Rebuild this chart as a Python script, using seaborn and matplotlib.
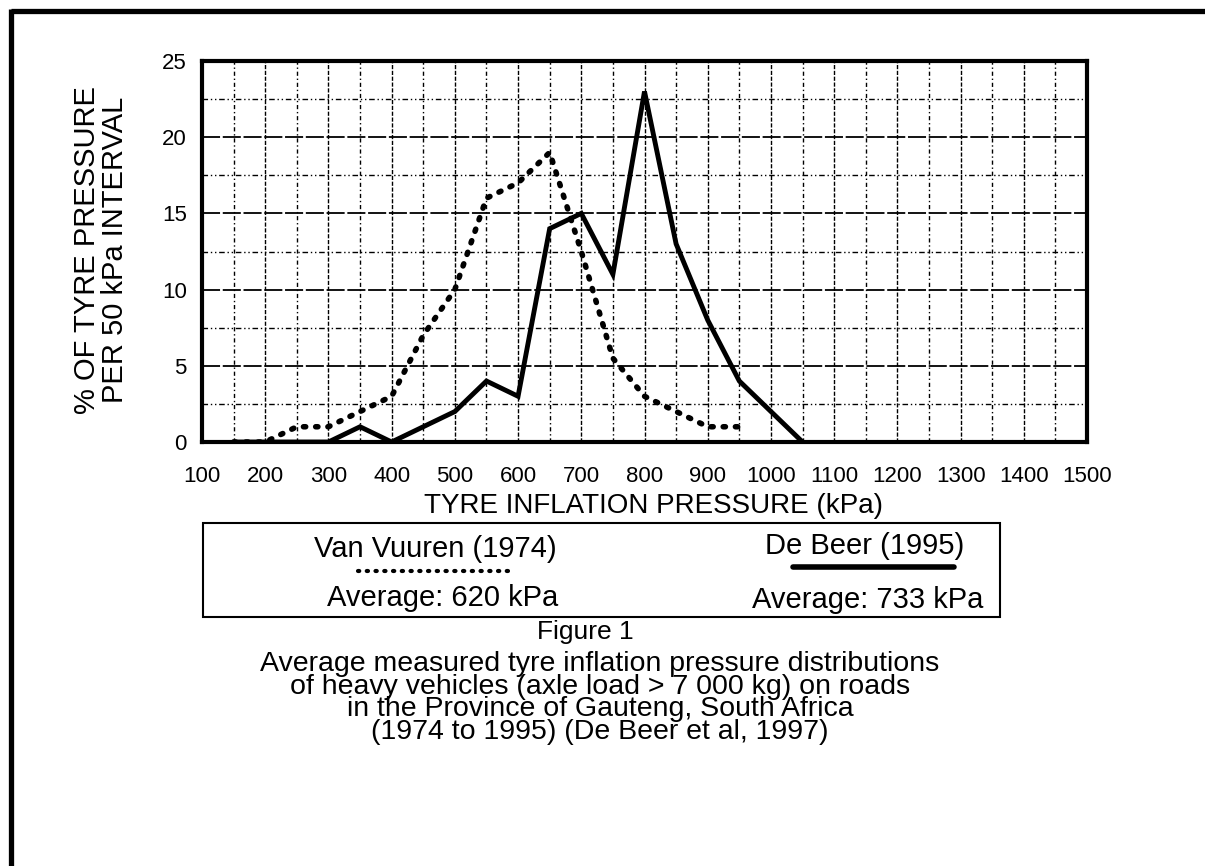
import matplotlib
matplotlib.use("Agg")
import matplotlib.pyplot as plt
import matplotlib.ticker as mtick
from matplotlib.lines import Line2D
from matplotlib.patches import Rectangle
import pandas as pd
import seaborn as sns

# pressao (kPa) e % por intervalo de 50 kPa
pressao_van_vuuren = [150, 200, 250, 300, 350, 400, 450, 500, 550, 600, 650, 700, 750, 800, 850, 900, 950]
perc_van_vuuren = [0, 0, 1, 1, 2, 3, 7, 10, 16, 17, 19, 12.5, 5.5, 3, 2, 1, 1]

pressao_de_beer = [150, 200, 250, 300, 350, 400, 450, 500, 550, 600, 650, 700, 750, 800, 850, 900, 950, 1000, 1050]
perc_de_beer = [0, 0, 0, 0, 1, 0, 1, 2, 4, 3, 14, 15, 11, 23, 13, 8, 4, 2, 0]

x_ticks = list(range(100, 1501, 100))
y_ticks = [0, 5, 10, 15, 20, 25]

legenda_nomes = ["Van Vuuren (1974)", "De Beer (1995)"]
legenda_medias = ["Average: 620 kPa", "Average: 733 kPa"]

titulo_figura = "Figure 1"
legenda_texto = [
    "Average measured tyre inflation pressure distributions",
    "of heavy vehicles (axle load > 7 000 kg) on roads",
    "in the Province of Gauteng, South Africa",
    "(1974 to 1995) (De Beer et al, 1997)",
]

df_vv = pd.DataFrame({"pressao": pressao_van_vuuren, "perc": perc_van_vuuren})
df_db = pd.DataFrame({"pressao": pressao_de_beer, "perc": perc_de_beer})

sns.set_style("white")
plt.rcParams["font.family"] = ["Liberation Sans", "DejaVu Sans"]
plt.rcParams["text.color"] = "black"
plt.rcParams["axes.labelcolor"] = "black"
plt.rcParams["xtick.color"] = "black"
plt.rcParams["ytick.color"] = "black"

W, H = 1205, 866
fig = plt.figure(figsize=(W / 100, H / 100), dpi=100)


def px(x, y):
    # pixel da imagem -> coordenadas da figura
    return x / W, 1 - y / H


ax = fig.add_axes([202 / W, 1 - 442 / H, (1087 - 202) / W, (442 - 61) / H])

sns.lineplot(data=df_vv, x="pressao", y="perc", ax=ax, color="black", linewidth=4,
             linestyle=(0, (0.4, 1.8)), dash_capstyle="round", zorder=5)
sns.lineplot(data=df_db, x="pressao", y="perc", ax=ax, color="black", linewidth=3.5,
             solid_joinstyle="miter", zorder=6)

ax.set_xlim(100, 1500)
ax.set_ylim(0, 25)
ax.set_xticks(x_ticks)
ax.set_yticks(y_ticks)
ax.xaxis.set_minor_locator(mtick.MultipleLocator(50))
ax.yaxis.set_minor_locator(mtick.MultipleLocator(2.5))

ax.grid(True, which="major", axis="x", color="black", linewidth=1, linestyle=(0, (3, 1.2)))
ax.grid(True, which="minor", axis="x", color="black", linewidth=1, linestyle=(0, (3, 2, 1, 2)))
ax.grid(True, which="major", axis="y", color="black", linewidth=1.3, linestyle=(0, (10, 1.5)))
ax.grid(True, which="minor", axis="y", color="black", linewidth=1, linestyle=(0, (4, 2, 1, 2, 1, 2)))
ax.set_axisbelow(True)

ax.tick_params(which="both", length=0)
ax.tick_params(axis="x", labelsize=16, pad=17)
ax.tick_params(axis="y", labelsize=16, pad=11)

for spine in ax.spines.values():
    spine.set_visible(True)
    spine.set_linewidth(3)
    spine.set_color("black")

ax.set_xlabel("TYRE INFLATION PRESSURE (kPa)", fontsize=20)
ax.xaxis.set_label_coords(0.51, -0.135)
ax.set_ylabel("% OF TYRE PRESSURE\nPER 50 kPa INTERVAL", fontsize=21, linespacing=1.0, va="center")
ax.yaxis.set_label_coords(-0.114, 0.504)

# caixa da legenda
x0, y0 = px(203, 617)
x1, y1 = px(1000, 523)
fig.patches.append(Rectangle((x0, y0), x1 - x0, y1 - y0, transform=fig.transFigure,
                             fill=False, edgecolor="black", linewidth=1.5))

fig.text(*px(435, 549), legenda_nomes[0], ha="center", va="center", fontsize=21)
fig.text(*px(443, 598), legenda_medias[0], ha="center", va="center", fontsize=21)
fig.text(*px(865, 546), legenda_nomes[1], ha="center", va="center", fontsize=21)
fig.text(*px(868, 600), legenda_medias[1], ha="center", va="center", fontsize=21)

la, ya = px(358, 571)
lb, _ = px(513, 571)
fig.lines.append(Line2D([la, lb], [ya, ya], transform=fig.transFigure, color="black",
                        linewidth=3, linestyle=(0, (0.3, 1.8)), dash_capstyle="round"))
la, ya = px(793, 567)
lb, _ = px(954, 567)
fig.lines.append(Line2D([la, lb], [ya, ya], transform=fig.transFigure, color="black",
                        linewidth=4, solid_capstyle="round"))

# legenda da figura
fig.text(*px(585, 632), titulo_figura, ha="center", va="center", fontsize=19)
fig.text(*px(600, 698), "\n".join(legenda_texto), ha="center", va="center",
         multialignment="center", fontsize=20.5, linespacing=0.84)

# moldura externa (topo e esquerda)
fig.lines.append(Line2D([10.5 / W, 1.0], [1 - 10.5 / H, 1 - 10.5 / H], transform=fig.transFigure,
                        color="black", linewidth=3.8, solid_capstyle="butt"))
fig.lines.append(Line2D([10.5 / W, 10.5 / W], [0, 1 - 8.5 / H], transform=fig.transFigure,
                        color="black", linewidth=3.8, solid_capstyle="butt"))

fig.savefig("out.png", dpi=100, facecolor="white")
